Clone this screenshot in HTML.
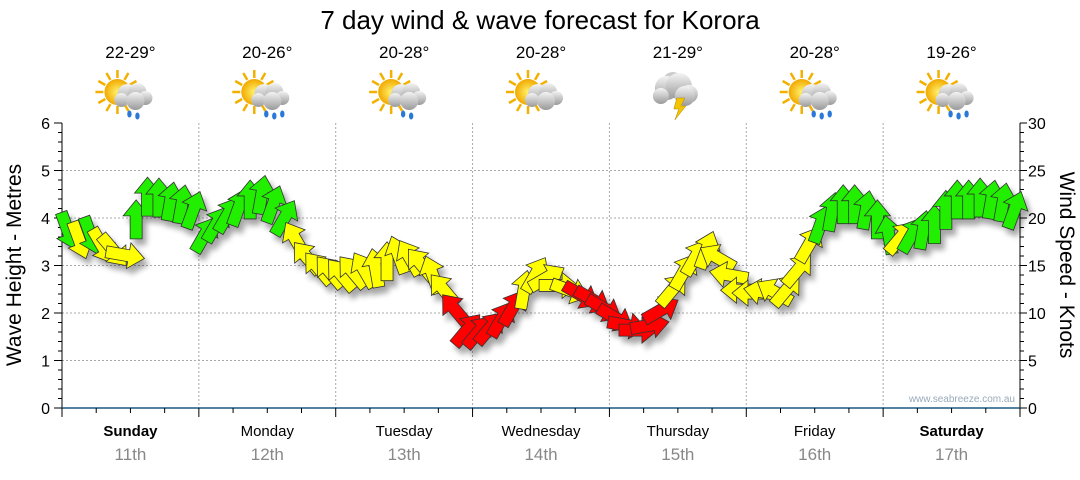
<!DOCTYPE html>
<html><head><meta charset="utf-8"><style>
body{margin:0;background:#fff;font-family:"Liberation Sans",sans-serif;}
svg text{font-family:"Liberation Sans",sans-serif;}
</style></head><body>
<svg id="c" width="1080" height="475" viewBox="0 0 1080 475">
<defs>
<filter id="sh" x="-50%" y="-50%" width="200%" height="200%"><feGaussianBlur in="SourceAlpha" stdDeviation="3"/><feOffset dx="4" dy="6"/><feComponentTransfer><feFuncA type="linear" slope="0.35"/></feComponentTransfer><feMerge><feMergeNode/><feMergeNode in="SourceGraphic"/></feMerge></filter>
<radialGradient id="sun"><stop offset="0" stop-color="#fff36b"/><stop offset="1" stop-color="#f2a900"/></radialGradient>
<linearGradient id="cl" x1="0" y1="0" x2="0" y2="1"><stop offset="0" stop-color="#f4f4f4"/><stop offset="1" stop-color="#9a9a9a"/></linearGradient>
</defs>
<text x="540" y="29" text-anchor="middle" font-size="26" fill="#000">7 day wind &amp; wave forecast for Korora</text>
<g id="grid"></g><g id="icons"></g><g id="axes"></g><g id="arrows" filter="url(#sh)"></g>
<text x="1015" y="402" text-anchor="end" font-size="10" fill="#9ab">www.seabreeze.com.au</text>
<text transform="translate(21,265) rotate(-90)" text-anchor="middle" font-size="21">Wave Height - Metres</text>
<text transform="translate(1060,265) rotate(90)" text-anchor="middle" font-size="21">Wind Speed - Knots</text>
</svg>
<script>
const days=["Sunday","Monday","Tuesday","Wednesday","Thursday","Friday","Saturday"];
const dates=["11th","12th","13th","14th","15th","16th","17th"];
const temps=["22-29°","20-26°","20-28°","20-28°","21-29°","20-28°","19-26°"];
const icons=["rain","rain2","rain","sun","storm","rain2","rain2"];
const leftTicks=[0,1,2,3,4,5,6];
const rightTicks=[0,5,10,15,20,25,30];
const windKnots=[18.7,17.7,18.2,17.1,16.6,16.1,19.8,22.2,22.1,21.7,21.4,20.8,
18.2,19.3,20.3,21.1,21.9,22.4,21.4,20.0,17.7,15.8,14.7,14.3,
14.0,14.3,14.5,14.7,15.4,16.1,15.8,15.1,14.0,12.4,10.3,8.2,
8.0,8.4,9.3,10.5,12.4,14.0,13.7,12.9,12.4,11.9,11.4,10.5,
9.5,8.7,8.2,8.7,10.3,12.4,14.3,15.8,16.6,15.8,14.0,12.4,
12.1,12.2,12.2,12.4,14.5,17.2,19.3,20.6,21.4,21.4,20.8,19.8,
18.2,17.9,18.2,18.7,19.3,20.8,21.9,21.9,22.1,21.9,21.6,20.8];
const windDir=[160,160,160,150,140,100,0,0,0,10,10,20,
30,30,30,20,0,10,20,30,-30,-40,-40,-40,
-40,-40,-30,-10,0,-20,-30,-40,-20,-40,-40,40,
40,40,30,30,10,30,60,90,110,120,120,120,
120,100,90,80,60,40,30,30,20,-60,-80,-90,
-90,-80,-60,40,40,30,20,10,0,0,10,0,
-10,40,30,10,0,0,0,0,0,10,10,20];
const NS="http://www.w3.org/2000/svg";
const X0=62,X1=1020,Y0=408,Y1=123,DW=(X1-X0)/7;
const yM=v=>Y0-(v/6)*(Y0-Y1), yK=v=>Y0-(v/30)*(Y0-Y1), xT=i=>X0+(i+0.5)*(X1-X0)/windKnots.length;
function mk(t,a,p){const e=document.createElementNS(NS,t);for(const k in a)e.setAttribute(k,a[k]);(p||document.getElementById('c')).appendChild(e);return e;}
const G=document.getElementById('grid'),A=document.getElementById('axes'),I=document.getElementById('icons'),R=document.getElementById('arrows');
leftTicks.forEach(v=>{if(v>0&&v<6){const l=mk('line',{x1:X0,x2:X1,y1:yM(v),y2:yM(v),stroke:'#aaa','stroke-dasharray':'2,2'},G);}
const t=mk('text',{x:50,y:yM(v)+6,'text-anchor':'end','font-size':16},A);t.textContent=v;});
for(let v=0;v<=6.001;v+=0.2){mk('line',{x1:X0-(Math.abs(v-Math.round(v))<0.01?8:4),x2:X0,y1:yM(v),y2:yM(v),stroke:'#000'},A);}
rightTicks.forEach(v=>{const t=mk('text',{x:1028,y:yK(v)+6,'font-size':16},A);t.textContent=v;});
for(let v=0;v<=30;v++){mk('line',{x1:X1,x2:X1+(v%5==0?7:4),y1:yK(v),y2:yK(v),stroke:'#000'},A);}
mk('line',{x1:X0,x2:X0,y1:Y1,y2:Y0,stroke:'#000'},A);mk('line',{x1:X1,x2:X1,y1:Y1,y2:Y0,stroke:'#000'},A);
mk('line',{x1:X0,x2:X1,y1:Y0,y2:Y0,stroke:'#1a5a80','stroke-width':1.5},A);
for(let d=0;d<=7;d++){const x=X0+d*DW;if(d>0&&d<7)mk('line',{x1:x,x2:x,y1:Y1,y2:Y0,stroke:'#aaa','stroke-dasharray':'2,2'},G);
mk('line',{x1:x,x2:x,y1:Y0,y2:Y0+9,stroke:'#000'},A);
if(d<7)for(let q=1;q<4;q++)mk('line',{x1:x+q*DW/4,x2:x+q*DW/4,y1:Y0,y2:Y0+5,stroke:'#000'},A);}
days.forEach((d,i)=>{const cx=X0+(i+0.5)*DW;
const t=mk('text',{x:cx,y:436,'text-anchor':'middle','font-size':15,'font-weight':(i==0||i==6)?'bold':'normal'},A);t.textContent=d;
const t2=mk('text',{x:cx,y:460,'text-anchor':'middle','font-size':17,fill:'#888'},A);t2.textContent=dates[i];
const t3=mk('text',{x:cx,y:58,'text-anchor':'middle','font-size':17},I);t3.textContent=temps[i];
const g=mk('g',{transform:`translate(${cx-3},98)`},I);
if(icons[i]!='storm'){for(let r=0;r<12;r++){const a=r*Math.PI/6;mk('line',{x1:-10+Math.cos(a)*14,y1:-6+Math.sin(a)*14,x2:-10+Math.cos(a)*22,y2:-6+Math.sin(a)*22,stroke:'#f2b000','stroke-width':2.5},g);}
mk('circle',{cx:-10,cy:-6,r:13,fill:'url(#sun)'},g);}
const cs=icons[i]=='storm'?[[-8,-10,12],[4,-12,13],[14,-4,9],[-14,-2,8],[10,-2,10]]:[[0,-4,10],[10,-6,9],[18,0,7],[-6,2,7],[8,3,9]];
if(icons[i]=='storm'){mk('circle',{cx:-2,cy:-16,r:10,fill:'#ccc'},g);}
cs.forEach(c=>mk('circle',{cx:c[0],cy:c[1],r:c[2],fill:'url(#cl)'},g));
if(icons[i]=='storm')mk('polygon',{points:'2,0 10,0 6,8 11,8 0,22 4,11 -1,11',fill:'#f5c400',stroke:'#a80','stroke-width':.5},g);
else if(icons[i]!='sun'){const n=icons[i]=='rain2'?3:2;for(let k=0;k<n;k++)mk('ellipse',{cx:2+k*8,cy:16+(k%2)*2,rx:2.2,ry:3.5,fill:'#2a78d8'},g);}
});
windKnots.forEach((v,i)=>{const col=v>=18?'#22ee00':(v>=12?'#ffff00':'#ff0000');
const p=mk('path',{d:'M0,-20 L13,-4 L6,-4 L6,19 L-6,19 L-6,-4 L-13,-4 Z',fill:col,stroke:'#333','stroke-width':0.8,transform:`translate(${xT(i)},${yK(v)}) rotate(${windDir[i]})`},R);

});
</script>
</body></html>
